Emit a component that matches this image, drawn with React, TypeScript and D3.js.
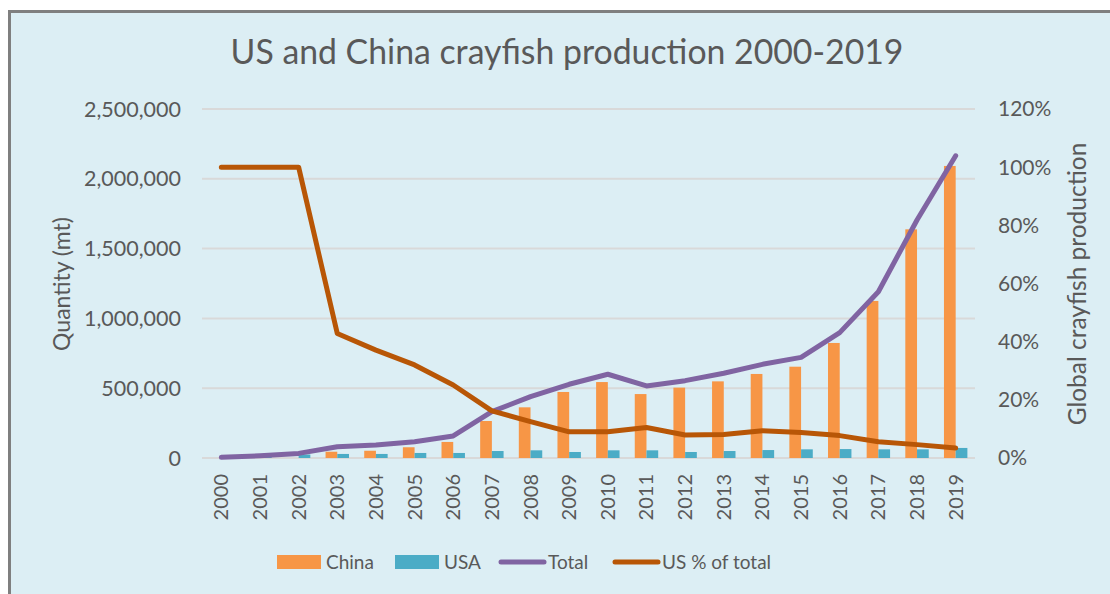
import React from 'react'
import * as d3 from 'd3'

const years = ['2000', '2001', '2002', '2003', '2004', '2005', '2006', '2007', '2008', '2009',
  '2010', '2011', '2012', '2013', '2014', '2015', '2016', '2017', '2018', '2019']
const china = [0, 0, 0, 45000, 52000, 77000, 115000, 265000, 363000, 473000,
  544000, 458000, 504000, 549000, 602000, 654000, 824000, 1125000, 1638000, 2092000]
const usa = [5000, 12000, 25000, 29000, 29000, 36000, 36000, 50000, 55000, 43000,
  55000, 55000, 43000, 50000, 57000, 62000, 64000, 62000, 62000, 72000]
const total = [5000, 16000, 33000, 81000, 93000, 117000, 158000, 332000, 440000, 528000,
  600000, 516000, 554000, 607000, 671000, 721000, 898000, 1191000, 1705000, 2165000]
const usShare = [1, 1, 1, 0.428, 0.371, 0.32, 0.251, 0.162, 0.125, 0.09,
  0.09, 0.105, 0.079, 0.081, 0.094, 0.088, 0.077, 0.056, 0.046, 0.034]
const leftTicks = [0, 500000, 1000000, 1500000, 2000000, 2500000]
const rightTicks = [0, 0.2, 0.4, 0.6, 0.8, 1, 1.2]

const FONT = 'Lato, "Open Sans", sans-serif'
const TXT = '#595959'
const ORANGE = '#F79646'
const TEAL = '#4BACC6'
const PURPLE = '#8064A2'
const BROWN = '#B85606'

export default function App() {
  const left = 202, right = 975, top = 109, bottom = 458

  const x = d3.scaleBand().domain(years).range([left, right]).padding(0)
  const x1 = d3.scaleBand().domain(['China', 'USA']).range([0, x.bandwidth()]).paddingOuter(0.65)
  const y = d3.scaleLinear().domain([0, 2500000]).range([bottom, top])
  const y2 = d3.scaleLinear().domain([0, 1.2]).range([bottom, top])
  const fmt = d3.format(',')
  const pct = d3.format('.0%')

  const cx = (i: number) => (x(years[i]) as number) + x.bandwidth() / 2
  const totalLine = d3.line<number>().x((d, i) => cx(i)).y(d => y(d))
  const shareLine = d3.line<number>().x((d, i) => cx(i)).y(d => y2(d))

  const legend = [
    { label: 'China', kind: 'rect', color: ORANGE, x: 277 },
    { label: 'USA', kind: 'rect', color: TEAL, x: 395 },
    { label: 'Total', kind: 'line', color: PURPLE, x: 499 },
    { label: 'US % of total', kind: 'line', color: BROWN, x: 613 },
  ]

  return (
    <svg width={1110} height={594} style={{ position: 'absolute', left: 0, top: 0 }} fontFamily={FONT}>
      <rect x={0} y={0} width={1110} height={594} fill="#fff" />
      <rect x={9.5} y={11.5} width={1120} height={620} fill="#DCEEF4" stroke="#7F7F7F" strokeWidth={3} />

      <text x={567} y={64} textAnchor="middle" fontSize={33.8} fill={TXT}>
        US and China crayfish production 2000-2019
      </text>

      {leftTicks.map(t => (
        <g key={t}>
          <line x1={left} x2={right} y1={y(t)} y2={y(t)} stroke="#D9D9D9" strokeWidth={2} />
          <text x={181} y={y(t)} dy="0.35em" textAnchor="end" fontSize={21.5} fill={TXT}>{fmt(t)}</text>
        </g>
      ))}
      {rightTicks.map(t => (
        <text key={t} x={998} y={y2(t)} dy="0.35em" fontSize={21} fill={TXT}>{pct(t)}</text>
      ))}

      <text transform={`translate(70,284) rotate(-90)`} textAnchor="middle" fontSize={23} fill={TXT}>Quantity (mt)</text>
      <text transform={`translate(1086,284) rotate(-90)`} textAnchor="middle" fontSize={24.5} fill={TXT}>Global crayfish production</text>

      {years.map((yr, i) => (
        <g key={yr}>
          {china[i] > 0 && (
            <rect x={(x(yr) as number) + (x1('China') as number)} y={y(china[i])}
              width={x1.bandwidth()} height={bottom - y(china[i])} fill={ORANGE} />
          )}
          <rect x={(x(yr) as number) + (x1('USA') as number)} y={y(usa[i])}
            width={x1.bandwidth()} height={bottom - y(usa[i])} fill={TEAL} />
          <text transform={`translate(${cx(i)},474) rotate(-90)`} dy="0.35em" textAnchor="end" fontSize={20} fill={TXT}>{yr}</text>
        </g>
      ))}

      <path d={totalLine(total) as string} fill="none" stroke={PURPLE} strokeWidth={5} strokeLinecap="round" strokeLinejoin="round" />
      <path d={shareLine(usShare) as string} fill="none" stroke={BROWN} strokeWidth={5} strokeLinecap="round" strokeLinejoin="round" />

      {legend.map(l => (
        <g key={l.label}>
          {l.kind === 'rect'
            ? <rect x={l.x} y={555} width={44} height={14} fill={l.color} />
            : <line x1={l.x + 2} x2={l.x + 45} y1={562} y2={562} stroke={l.color} strokeWidth={5} strokeLinecap="round" />}
          <text x={l.x + 49} y={562} dy="0.35em" fontSize={19} fill={TXT}>{l.label}</text>
        </g>
      ))}
    </svg>
  )
}
